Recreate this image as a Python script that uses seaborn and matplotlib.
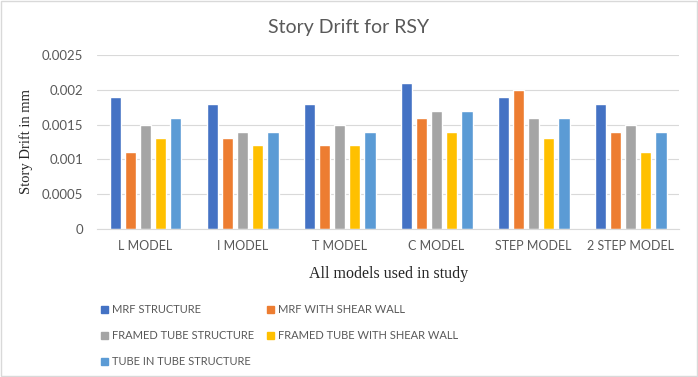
import pandas as pd
import matplotlib.pyplot as plt
import seaborn as sns
from matplotlib.patches import Patch
from matplotlib.patches import Rectangle

models = ['L MODEL', 'I MODEL', 'T MODEL', 'C MODEL', 'STEP MODEL', '2 STEP MODEL']
series = ['MRF STRUCTURE', 'MRF WITH SHEAR WALL', 'FRAMED TUBE STRUCTURE',
          'FRAMED TUBE WITH SHEAR WALL', 'TUBE IN TUBE STRUCTURE']
mrf = [0.0019, 0.0018, 0.0018, 0.0021, 0.0019, 0.0018]
mrf_wall = [0.0011, 0.0013, 0.0012, 0.0016, 0.0020, 0.0014]
framed_tube = [0.0015, 0.0014, 0.0015, 0.0017, 0.0016, 0.0015]
framed_tube_wall = [0.0013, 0.0012, 0.0012, 0.0014, 0.0013, 0.0011]
tube_in_tube = [0.0016, 0.0014, 0.0014, 0.0017, 0.0016, 0.0014]
colours = ['#4472C4', '#ED7D31', '#A5A5A5', '#FFC000', '#5B9BD5']

rows = []
for name, vals in zip(series, [mrf, mrf_wall, framed_tube, framed_tube_wall, tube_in_tube]):
    for m, v in zip(models, vals):
        rows.append({'Model': m, 'Series': name, 'Drift': v})
df = pd.DataFrame(rows)

sns.set_style('white')
plt.rcParams['font.family'] = ['Lato', 'DejaVu Sans']
grey = '#595959'

fig = plt.figure(figsize=(6.98, 3.77), dpi=100)
ax = fig.add_axes([0.139, 0.393, 0.834, 0.461])
sns.barplot(data=df, x='Model', y='Drift', hue='Series', palette=colours,
            width=0.78, gap=0.25, legend=False, ax=ax, saturation=1)

ax.set_ylim(0, 0.0025)
ax.set_yticks([0, 0.0005, 0.001, 0.0015, 0.002, 0.0025])
ax.set_yticklabels(['0', '0.0005', '0.001', '0.0015', '0.002', '0.0025'])
ax.yaxis.grid(True, color='#D9D9D9', linewidth=0.8)
ax.set_axisbelow(True)
for s in ['top', 'right', 'left']:
    ax.spines[s].set_visible(False)
ax.spines['bottom'].set_color('#D9D9D9')
ax.tick_params(axis='x', colors=grey, labelsize=9, length=0, pad=8)
ax.tick_params(axis='y', colors=grey, labelsize=9.5, length=0, pad=10)
ax.set_xlim(-0.5, 5.5)

ax.set_xlabel('All models used in study', fontsize=11.5, family='Liberation Serif',
              color='#262626', labelpad=10)
ax.set_ylabel('Story Drift in mm', fontsize=10.5, family='Liberation Serif',
              color='#262626', labelpad=6)
fig.text(0.5, 0.928, 'Story Drift for RSY', ha='center', va='center',
         fontsize=14, color=grey)

# row-wise order like Excel legend
handles = [Patch(color=colours[i], label=series[i]) for i in [0, 2, 4, 1, 3]]
fig.legend(handles=handles, loc='upper left', bbox_to_anchor=(0.131, 0.219), ncol=2,
           frameon=False, fontsize=8, handlelength=0.6, handleheight=0.6,
           handletextpad=0.35, columnspacing=1.2, labelspacing=1.35, labelcolor=grey)

fig.patches.append(Rectangle((0.001, 0.002), 0.997, 0.995, transform=fig.transFigure,
                             fill=False, edgecolor='#D9D9D9', linewidth=1))
fig.savefig('out.png', dpi=100)
